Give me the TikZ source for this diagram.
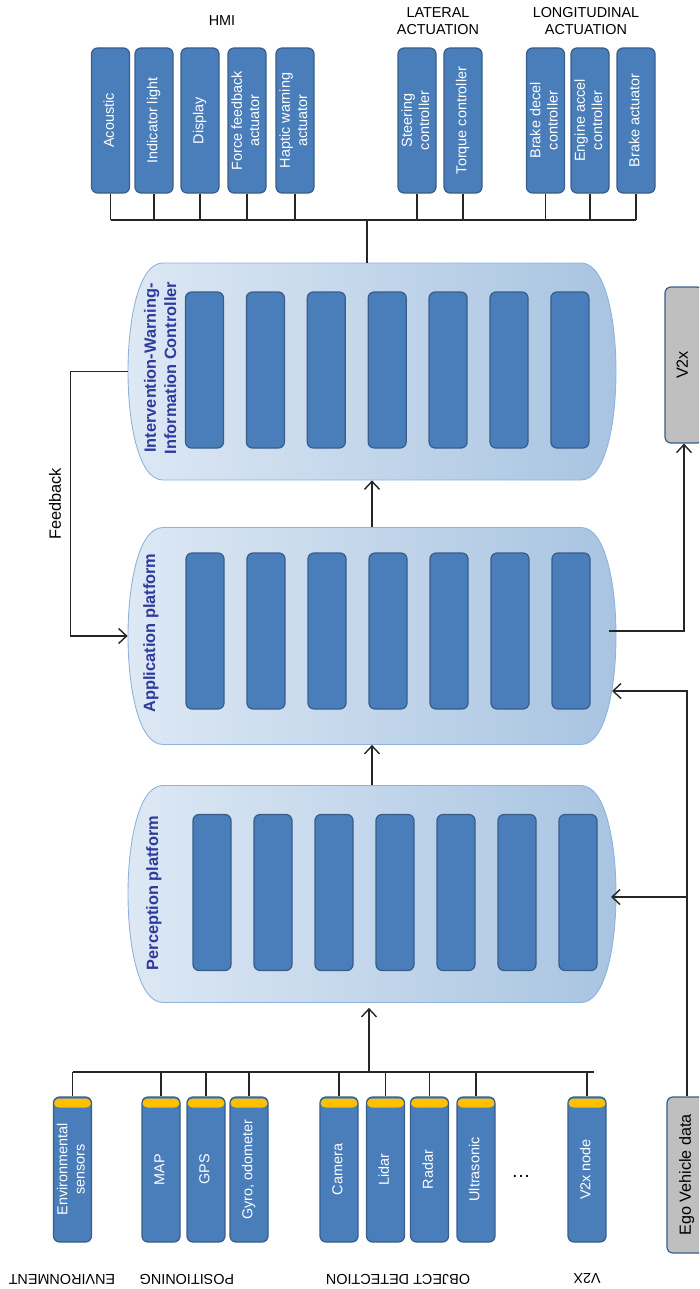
\documentclass[tikz,border=0pt]{standalone}
\usepackage{fontspec}
\setmainfont{Liberation Sans}
\usepackage{graphicx}
\usetikzlibrary{arrows.meta,positioning,calc}
\definecolor{unitblue}{HTML}{4A7EBB}
\definecolor{unitedge}{HTML}{385D8A}
\definecolor{platleft}{HTML}{DDE8F4}
\definecolor{platright}{HTML}{A8C4E1}
\definecolor{platedge}{HTML}{8EB2DC}
\definecolor{bandyellow}{HTML}{FFC000}
\definecolor{datagray}{HTML}{BFBFBF}
\definecolor{titleblue}{HTML}{2E3A9C}
\newcommand{\vtext}[1]{\rotatebox{90}{\begin{tabular}{@{}c@{}}#1\end{tabular}}}

\begin{document}
\begin{tikzpicture}[x=0.2mm,y=-0.2mm,
    unit/.style={draw=unitedge,fill=unitblue,line width=0.7pt,rounded corners=1.2mm,minimum width=7.6mm,minimum height=29mm,inner sep=0pt,text=white,font=\fontsize{8.2}{9.8}\selectfont},
    sensor/.style={unit,path picture={\fill[bandyellow] ([yshift=-0.3mm]path picture bounding box.north west) rectangle ([yshift=-2.1mm]path picture bounding box.north east);}},
    slot/.style={draw=unitedge,fill=unitblue,line width=0.7pt,rounded corners=1.2mm,minimum width=7.6mm,minimum height=31.2mm,inner sep=0pt},
    datasrc/.style={draw=unitedge,fill=datagray,line width=0.7pt,rounded corners=1.2mm,minimum height=31.2mm,inner sep=0pt,font=\fontsize{9.2}{11}\selectfont},
    platform/.style={draw=platedge,line width=0.5pt,left color=platleft,right color=platright},
    ptitle/.style={text=titleblue,font=\fontsize{9.3}{11.4}\selectfont\bfseries,inner sep=0pt},
    group/.style={font=\fontsize{8.2}{9.7}\selectfont,align=center,inner sep=0pt},
    wire/.style={line width=0.8pt,black!85},
    arr/.style={wire,-{Straight Barb[length=1.6mm,width=3mm]}}]
  \useasboundingbox (0,0) rectangle (699,1289);
  \clip (0,0) rectangle (699,1289);
  % platforms
  \foreach \nm/\yc in {iwic/371.5,app/636,perc/894}{
    \path[platform] (163,\yc-108.5) -- (581,\yc-108.5)
      .. controls (606,\yc-108.5) and (616,\yc-50) .. (616,\yc)
      .. controls (616,\yc+50) and (606,\yc+108.5) .. (581,\yc+108.5)
      -- (163,\yc+108.5)
      .. controls (138,\yc+108.5) and (128,\yc+50) .. (128,\yc)
      .. controls (128,\yc-50) and (138,\yc-108.5) .. (163,\yc-108.5) -- cycle;
    \node[minimum width=97.6mm,minimum height=43.4mm,inner sep=0pt] (\nm) at (372,\yc) {};
  }
  \foreach \i in {0,...,6}{
    \node[slot] (iwic-\i) at ({204.5+60.9*\i},370) {};
    \node[slot] (app-\i) at ({205+61*\i},631) {};
    \node[slot] (perc-\i) at ({212+61*\i},892.5) {};
  }
  \node[ptitle] (iwic-t) at (162,368) {\vtext{Intervention-Warning-\\Information Controller}};
  \node[ptitle] (app-t) at (151,633) {\vtext{Application platform}};
  \node[ptitle] (perc-t) at (154,893) {\vtext{Perception platform}};
  % actuators and HMI
  \foreach \nm/\xc/\txt in {acou/110.5/Acoustic, ind/154/Indicator light, disp/200/Display, force/247/Force feedback\\actuator, hapt/295/Haptic warning\\actuator, steer/417/Steering\\controller, torq/463/Torque controller, bdec/545.5/Brake decel\\controller, eacc/590/Engine accel\\controller, bact/636/Brake actuator}
    \node[unit] (\nm) at (\xc,120.5) {\vtext{\txt}};
  \coordinate (abus) at (367,220);
  \draw[wire] (acou.south |- abus) -- (bact.south |- abus);
  \foreach \nm in {acou,ind,disp,force,hapt,steer,torq,bdec,eacc,bact}
    \draw[wire] (\nm.south) -- (\nm.south |- abus);
  \draw[wire] (abus) -- (abus |- iwic.north);
  \node[group] (hmi) at (222,21) {HMI};
  \node[group] (lat) at (438,21) {LATERAL\\ACTUATION};
  \node[group] (lon) at (586,21) {LONGITUDINAL\\ACTUATION};
  % sensors
  \foreach \nm/\xc/\txt in {env/72.5/Environmental\\sensors, map/161/MAP, gps/206/GPS, gyro/249/{Gyro, odometer}, cam/339/Camera, lidar/385.5/Lidar, radar/429.5/Radar, ultra/476/Ultrasonic, vnode/587/V2x node}
    \node[sensor] (\nm) at (\xc,1169.5) {\vtext{\txt}};
  \coordinate (sbus) at (369,1072);
  \draw[wire] (env.north |- sbus) -- (vnode.north |- sbus) -- ++(7,0);
  \foreach \nm in {env,map,gps,gyro,cam,lidar,radar,ultra,vnode}
    \draw[wire] (\nm.north) -- (\nm.north |- sbus);
  \node (dots) at (521,1176) {\fontsize{11}{12}\selectfont\textellipsis};
  \node[group,rotate=180] (genv) at (62,1279) {ENVIRONMENT};
  \node[group,rotate=180] (gpos) at (187,1279) {POSITIONING};
  \node[group,rotate=180] (gobj) at (398,1279) {OBJECT DETECTION};
  \node[group,rotate=180] (gv2x) at (587,1279) {V2X};
  % flows between platforms
  \draw[arr,shorten >=1mm] (sbus) -- (sbus |- perc.south);
  \draw[arr] (perc.north) -- (app.south);
  \draw[arr] (app.north) -- (iwic.south);
  \draw[arr] (iwic.west) -- ++(-57,0) |- (app.west);
  \node[rotate=90,font=\fontsize{9.3}{11}\selectfont] (fb) at (55,504) {Feedback};
  % ego data and V2x
  \node[datasrc,minimum width=8mm] (ego) at (687,1175) {\vtext{Ego Vehicle data}};
  \node[datasrc,minimum width=7.6mm] (v2x) at (684,365) {\vtext{V2x}};
  \coordinate (appin) at (612,691);
  \coordinate (percin) at (611,897);
  \coordinate (appout) at (609,631);
  \draw[arr] (ego.north) |- (appin);
  \draw[arr] (ego.north |- percin) -- (percin);
  \draw[arr] (appout) -| (v2x.south);
\end{tikzpicture}
\end{document}
